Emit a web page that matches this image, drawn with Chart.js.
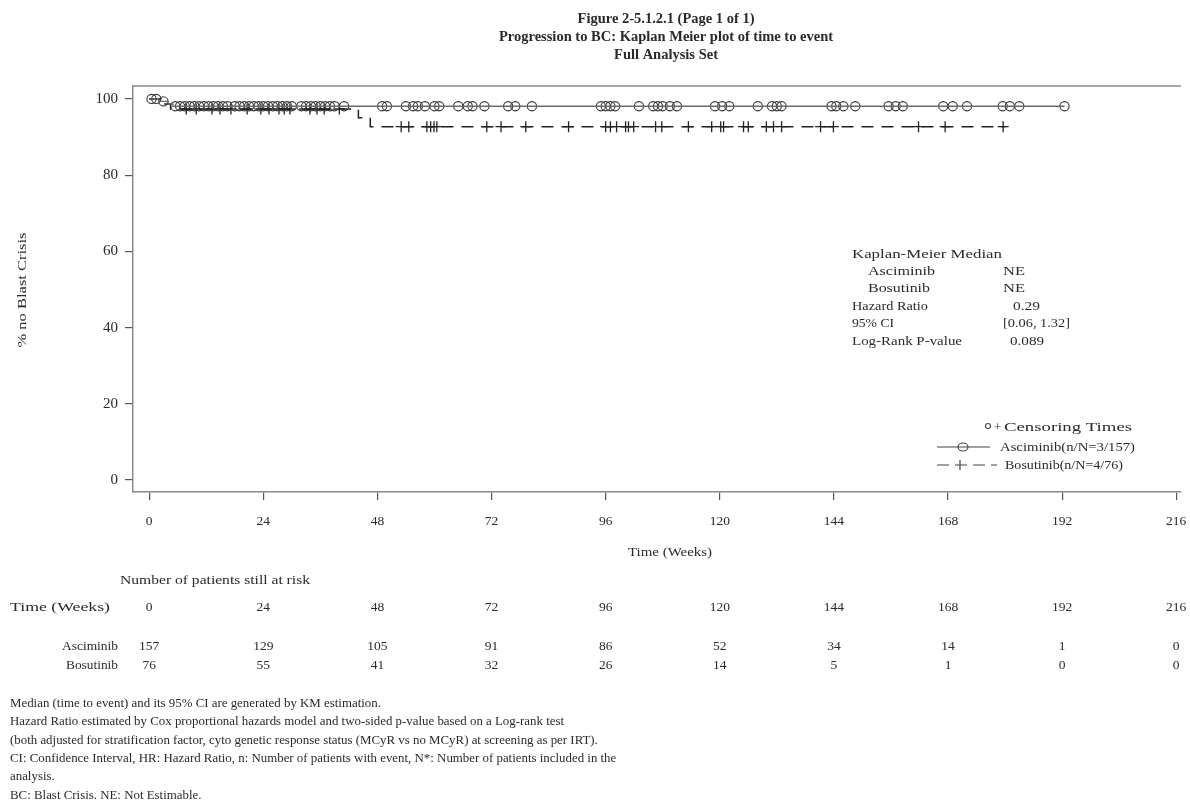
<!DOCTYPE html>
<html>
<head>
<meta charset="utf-8">
<script src="https://cdn.jsdelivr.net/npm/chart.js@4/dist/chart.umd.min.js"></script>
<style>
  html, body { margin: 0; padding: 0; background: #fff; }
  #wrap { width: 1190px; height: 807px; position: relative; }
</style>
</head>
<body>
<div id="wrap"><canvas id="km"></canvas></div>
<script>
// Axis ticks
const weekTicks = [0, 24, 48, 72, 96, 120, 144, 168, 192, 216];
const pctTicks = [0, 20, 40, 60, 80, 100];

// Kaplan-Meier step curves (week, % without blast crisis)
const asciminibTime = [0, 2, 4, 5, 192.5];
const asciminibPct  = [100, 99.36, 98.73, 98.09, 98.09];
const bosutinibTime = [0, 2.5, 4.5, 44, 46.5, 180];
const bosutinibPct  = [100, 98.68, 97.37, 95.05, 92.73, 92.73];

// Censoring times (weeks)
const asciminibCensor = [0.5, 1.5, 3, 5.5, 6.5, 7.5, 8.5, 9.5, 10.5, 11.5, 12.5, 13.5, 14.5, 15.5,
  16.5, 18, 19, 20, 21, 22, 23, 24, 25, 26, 27, 28, 29, 30, 32, 33, 34, 35, 36, 37, 38, 39, 41,
  49, 50, 54, 55.5, 56.5, 58, 60, 61, 65, 67, 68, 70.5, 75.5, 77, 80.5, 95, 96, 97, 98, 103,
  106, 107, 108, 109.5, 111, 119, 120.5, 122, 128, 131, 132, 133, 143.5, 144.5, 146, 148.5,
  155.5, 157, 158.5, 167, 169, 172, 179.5, 181, 183, 192.5];
const bosutinibCensor = [7.8, 9.9, 13.2, 14.9, 17.2, 20.6, 23.5, 25.2, 27.3, 28.4, 29.6, 33.8,
  35.3, 36.8, 40, 53, 54.6, 58.4, 59.2, 59.9, 60.5, 71, 74, 79.2, 88.2, 96, 97, 98.3, 100.2,
  100.8, 101.9, 106.5, 107.8, 113.4, 118.3, 120.2, 120.8, 125, 126, 129.8, 131.3, 133, 141.2,
  143.9, 161.8, 167.4, 179.6];

// Number at risk
const riskWeeks = [0, 24, 48, 72, 96, 120, 144, 168, 192, 216];
const asciminibAtRisk = [157, 129, 105, 91, 86, 52, 34, 14, 1, 0];
const bosutinibAtRisk = [76, 55, 41, 32, 26, 14, 5, 1, 0, 0];

// Summary statistics
const statLabels = ['Kaplan-Meier Median', 'Asciminib', 'Bosutinib', 'Hazard Ratio', '95% CI', 'Log-Rank P-value'];
const statValues = ['', 'NE', 'NE', '0.29', '[0.06, 1.32]', '0.089'];

const titleLines = ['Figure 2-5.1.2.1 (Page 1 of 1)', 'Progression to BC: Kaplan Meier plot of time to event', 'Full Analysis Set'];
const footnotes = [
  'Median (time to event) and its 95% CI are generated by KM estimation.',
  'Hazard Ratio estimated by Cox proportional hazards model and two-sided p-value based on a Log-rank test',
  '(both adjusted for stratification factor, cyto genetic response status (MCyR vs no MCyR) at screening as per IRT).',
  'CI: Confidence Interval, HR: Hazard Ratio, n: Number of patients with event, N*: Number of patients included in the',
  'analysis.',
  'BC: Blast Crisis. NE: Not Estimable.'
];

const SERIF = '"Liberation Serif", "DejaVu Serif", serif';
const INK = '#2a2a2a';

function stepValue(times, pcts, t) {
  let v = pcts[0];
  for (let i = 0; i < times.length; i++) { if (times[i] <= t) v = pcts[i]; }
  return v;
}
function toXY(times, pcts) { return times.map((t, i) => ({ x: t, y: pcts[i] })); }
function censorXY(list, times, pcts) { return list.map(t => ({ x: t, y: stepValue(times, pcts, t) })); }

// Text drawn with an optional horizontal stretch (to a width, or by a factor)
function text(ctx, s, x, y, align, width, factor) {
  const w = ctx.measureText(s).width;
  const sx = width ? width / w : (factor || 1);
  ctx.save();
  ctx.translate(x, y);
  ctx.scale(sx, 1);
  ctx.textAlign = align || 'left';
  ctx.fillText(s, 0, 0);
  ctx.restore();
}

const annotations = {
  id: 'annotations',
  afterDraw(chart) {
    const ctx = chart.ctx;
    const xs = chart.scales.x, area = chart.chartArea;
    ctx.save();
    ctx.fillStyle = INK;
    ctx.textBaseline = 'alphabetic';

    // top frame line
    ctx.strokeStyle = '#8a8a8a';
    ctx.lineWidth = 1.5;
    ctx.beginPath();
    ctx.moveTo(area.left, area.top);
    ctx.lineTo(area.right, area.top);
    ctx.stroke();

    // titles
    ctx.font = 'bold 14.5px ' + SERIF;
    titleLines.forEach((s, i) => text(ctx, s, 666, 23 + i * 18, 'center'));

    // y-axis title
    ctx.font = '13px ' + SERIF;
    ctx.save();
    ctx.translate(26, 290);
    ctx.rotate(-Math.PI / 2);
    text(ctx, '% no Blast Crisis', 0, 0, 'center', 115);
    ctx.restore();

    // x-axis title
    text(ctx, 'Time (Weeks)', 670, 556, 'center', 84);

    // summary statistics
    const labelW = [150, 67, 62, 76, 42, 110];
    const valueX = [0, 1003, 1003, 1013, 1003, 1010];
    const valueW = [0, 22, 22, 27, 67, 34];
    statLabels.forEach((s, i) => {
      const y = 257.5 + i * 17.4;
      text(ctx, s, (i === 1 || i === 2) ? 868 : 852, y, 'left', labelW[i]);
      if (statValues[i]) text(ctx, statValues[i], valueX[i], y, 'left', valueW[i]);
    });

    // legend
    ctx.strokeStyle = '#444';
    ctx.lineWidth = 1.1;
    ctx.beginPath(); ctx.arc(988, 426, 2.5, 0, Math.PI * 2); ctx.stroke();
    text(ctx, '+', 994, 431);
    text(ctx, 'Censoring Times', 1004, 431, 'left', 128);
    ctx.lineWidth = 1.2;
    ctx.beginPath(); ctx.moveTo(937, 447); ctx.lineTo(990, 447); ctx.stroke();
    ctx.beginPath(); ctx.ellipse(963, 447, 5, 4, 0, 0, Math.PI * 2); ctx.stroke();
    text(ctx, 'Asciminib(n/N=3/157)', 1000, 451, 'left', 135);
    ctx.setLineDash([12, 6]);
    ctx.beginPath(); ctx.moveTo(937, 465); ctx.lineTo(997, 465); ctx.stroke();
    ctx.setLineDash([]);
    ctx.beginPath(); ctx.moveTo(960, 460); ctx.lineTo(960, 470); ctx.stroke();
    text(ctx, 'Bosutinib(n/N=4/76)', 1005, 469, 'left', 118);

    // number at risk table
    ctx.font = '13.5px ' + SERIF;
    text(ctx, 'Number of patients still at risk', 120, 584, 'left', 190);
    text(ctx, 'Time (Weeks)', 10, 611, 'left', 100);
    text(ctx, 'Asciminib', 118, 650, 'right', 56);
    text(ctx, 'Bosutinib', 118, 669, 'right', 52);
    riskWeeks.forEach((w, i) => {
      const px = xs.getPixelForValue(w);
      text(ctx, String(w), px, 611, 'center');
      text(ctx, String(asciminibAtRisk[i]), px, 650, 'center');
      text(ctx, String(bosutinibAtRisk[i]), px, 669, 'center');
    });

    // footnotes
    ctx.font = '11.5px ' + SERIF;
    footnotes.forEach((s, i) => text(ctx, s, 10, 707 + i * 18.3, 'left', 0, 1.12));
    ctx.restore();
  }
};

const chart = new Chart(document.getElementById('km'), {
  type: 'scatter',
  data: {
    datasets: [
      {
        label: 'Asciminib',
        data: toXY(asciminibTime, asciminibPct),
        showLine: true, stepped: 'before',
        borderColor: '#6a6a6a', borderWidth: 1.3,
        pointRadius: 0
      },
      {
        label: 'Bosutinib',
        data: toXY(bosutinibTime, bosutinibPct),
        showLine: true, stepped: 'before',
        borderColor: '#222', borderWidth: 1.5, borderDash: [12, 8],
        pointRadius: 0
      },
      {
        label: 'Asciminib censored',
        data: censorXY(asciminibCensor, asciminibTime, asciminibPct),
        showLine: false, pointStyle: 'circle', pointRadius: 4.6,
        borderColor: '#333', borderWidth: 1.1, backgroundColor: 'rgba(255,255,255,0)'
      },
      {
        label: 'Bosutinib censored',
        data: censorXY(bosutinibCensor, bosutinibTime, bosutinibPct),
        showLine: false, pointStyle: 'cross', pointRadius: 5.5,
        borderColor: '#222', borderWidth: 1.3
      }
    ]
  },
  options: {
    responsive: true, maintainAspectRatio: false, animation: false,
    layout: { padding: { left: 0, top: 86, right: 9, bottom: 270 } },
    plugins: { legend: { display: false }, tooltip: { enabled: false } },
    scales: {
      x: {
        type: 'linear', min: -3.4, max: 217,
        afterBuildTicks(scale) { scale.ticks = weekTicks.map(v => ({ value: v })); },
        afterFit(scale) { scale.height = 45; scale.paddingLeft = 0; scale.paddingRight = 0; },
        grid: { display: true, drawOnChartArea: false, drawTicks: true, tickLength: 8, color: '#555', lineWidth: 1.2 },
        border: { display: true, color: '#8a8a8a', width: 1.5 },
        ticks: { color: INK, font: { family: SERIF, size: 13.5 }, padding: 13, maxRotation: 0, autoSkip: false }
      },
      y: {
        type: 'linear', min: -3.15, max: 103.4,
        afterBuildTicks(scale) { scale.ticks = pctTicks.map(v => ({ value: v })); },
        afterFit(scale) { scale.width = 133; scale.paddingTop = 0; scale.paddingBottom = 0; },
        grid: { display: true, drawOnChartArea: false, drawTicks: true, tickLength: 8, color: '#555', lineWidth: 1.2 },
        border: { display: true, color: '#8a8a8a', width: 1.5 },
        ticks: { color: INK, font: { family: SERIF, size: 15 }, padding: 7 }
      }
    }
  },
  plugins: [annotations]
});
</script>
</body>
</html>
